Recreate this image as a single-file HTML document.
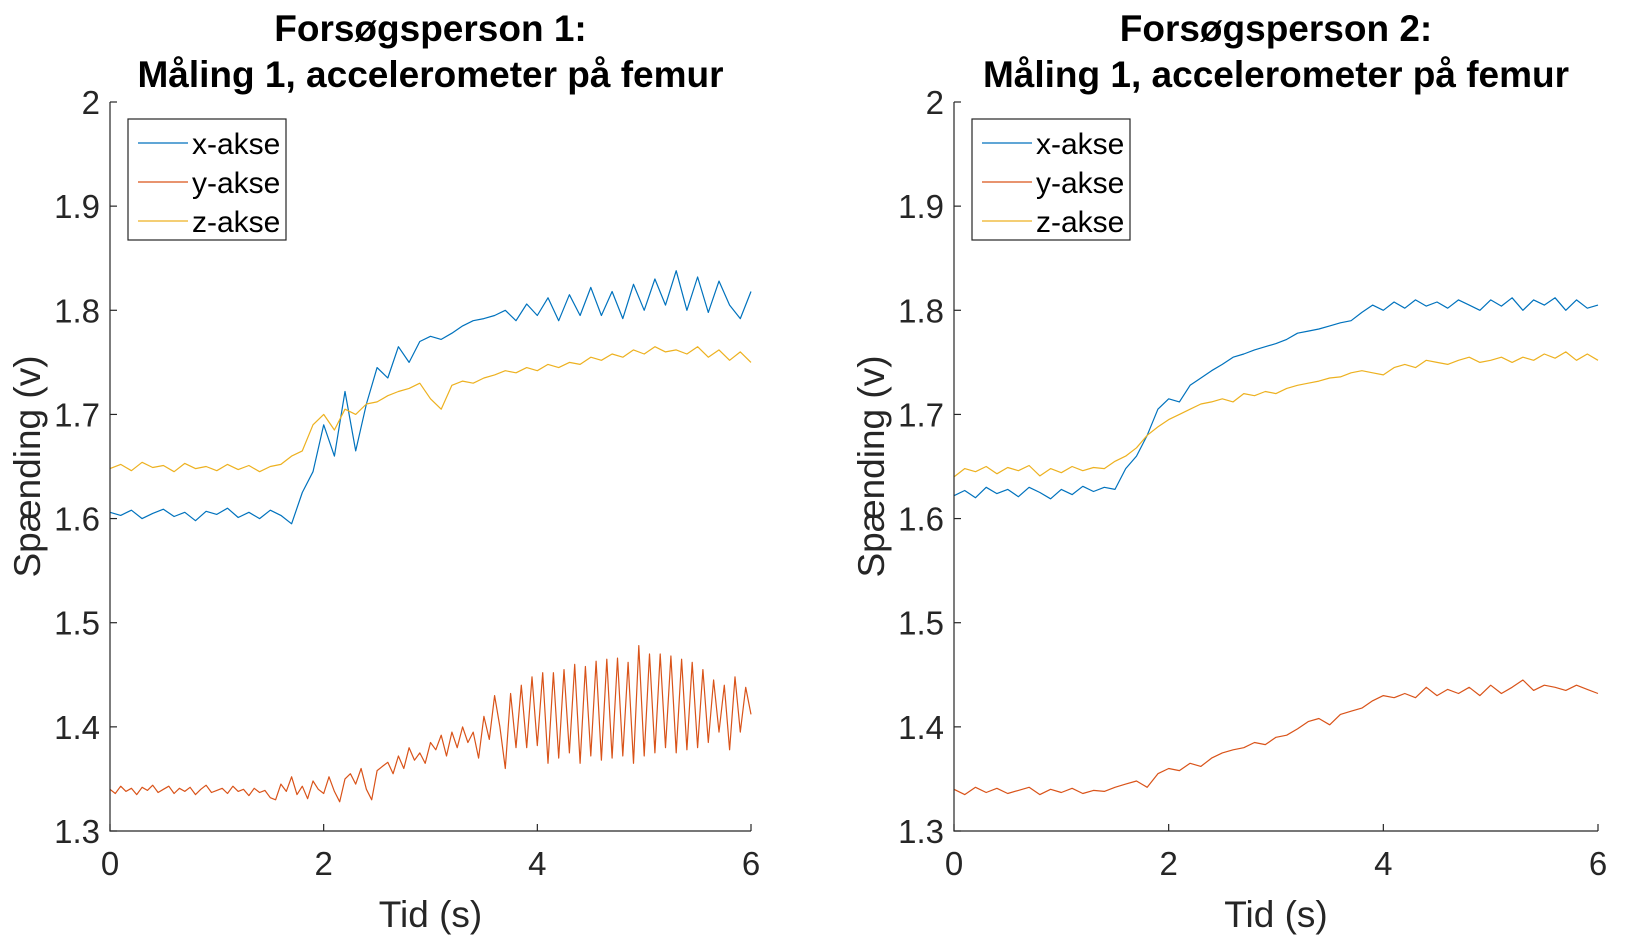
<!DOCTYPE html>
<html><head><meta charset="utf-8">
<style>
html,body{margin:0;padding:0;background:#fff;}
svg{display:block;font-family:"Liberation Sans",Arial,sans-serif;}
</style></head>
<body>
<svg id="fig" width="1625" height="935" viewBox="0 0 1625 935"></svg>
<script>
const xTicks=[0,2,4,6];
const yTicks=[1.3,1.4,1.5,1.6,1.7,1.8,1.9,2];
const seriesNames=["x-akse","y-akse","z-akse"];
const titles1=["Forsøgsperson 1:","Måling 1, accelerometer på femur"];
const titles2=["Forsøgsperson 2:","Måling 1, accelerometer på femur"];
const p1x=[1.606,1.603,1.608,1.600,1.605,1.609,1.602,1.606,1.598,1.607,1.604,1.610,1.601,1.606,1.600,1.608,1.603,1.595,1.625,1.645,1.690,1.660,1.722,1.665,1.710,1.745,1.735,1.765,1.750,1.770,1.775,1.772,1.778,1.785,1.790,1.792,1.795,1.800,1.790,1.806,1.795,1.812,1.790,1.815,1.795,1.822,1.795,1.818,1.792,1.825,1.800,1.830,1.805,1.838,1.800,1.832,1.798,1.828,1.805,1.792,1.818];
const p1y=[1.340,1.336,1.343,1.338,1.341,1.335,1.342,1.339,1.344,1.337,1.340,1.343,1.336,1.341,1.338,1.342,1.335,1.340,1.344,1.337,1.339,1.341,1.336,1.343,1.338,1.340,1.334,1.341,1.337,1.339,1.332,
1.330,1.345,1.338,1.352,1.335,1.343,1.331,1.348,1.340,1.336,
1.352,1.338,1.328,1.350,1.355,1.345,1.360,1.340,1.330,1.358,
1.362,1.366,1.355,1.372,1.360,1.380,1.368,1.375,1.365,1.385,
1.378,1.392,1.372,1.395,1.380,1.400,1.385,1.395,1.370,1.410,
1.388,1.430,1.400,1.360,1.432,1.380,1.440,1.380,1.448,1.382,
1.452,1.365,1.452,1.370,1.455,1.375,1.460,1.365,1.458,1.372,
1.463,1.368,1.465,1.370,1.466,1.372,1.462,1.365,1.478,1.372,
1.470,1.375,1.470,1.380,1.468,1.375,1.465,1.378,1.462,1.380,
1.455,1.385,1.445,1.395,1.440,1.378,1.448,1.395,1.438,1.412];
const p1z=[1.648,1.652,1.646,1.654,1.649,1.651,1.645,1.653,1.648,1.650,1.646,1.652,1.647,1.651,1.645,1.650,1.652,1.660,1.665,1.690,1.700,1.685,1.705,1.700,1.710,1.712,1.718,1.722,1.725,1.730,1.715,1.705,1.728,1.732,1.730,1.735,1.738,1.742,1.740,1.745,1.742,1.748,1.745,1.750,1.748,1.755,1.752,1.758,1.755,1.762,1.758,1.765,1.760,1.762,1.758,1.765,1.755,1.762,1.752,1.760,1.750];
const p2x=[1.622,1.627,1.620,1.630,1.624,1.628,1.621,1.630,1.625,1.619,1.628,1.623,1.631,1.626,1.630,1.628,1.648,1.660,1.680,1.705,1.715,1.712,1.728,1.735,1.742,1.748,1.755,1.758,1.762,1.765,1.768,1.772,1.778,1.780,1.782,1.785,1.788,1.790,1.798,1.805,1.800,1.808,1.802,1.810,1.804,1.808,1.802,1.810,1.805,1.800,1.810,1.804,1.812,1.800,1.810,1.805,1.812,1.800,1.810,1.802,1.805];
const p2y=[1.340,1.335,1.342,1.337,1.341,1.336,1.339,1.342,1.335,1.340,1.337,1.341,1.336,1.339,1.338,1.342,1.345,1.348,1.342,1.355,1.360,1.358,1.365,1.362,1.370,1.375,1.378,1.380,1.385,1.383,1.390,1.392,1.398,1.405,1.408,1.402,1.412,1.415,1.418,1.425,1.430,1.428,1.432,1.428,1.438,1.430,1.436,1.432,1.438,1.430,1.440,1.432,1.438,1.445,1.435,1.440,1.438,1.435,1.440,1.436,1.432];
const p2z=[1.640,1.648,1.645,1.650,1.643,1.649,1.646,1.651,1.641,1.648,1.644,1.650,1.646,1.649,1.648,1.655,1.660,1.668,1.680,1.688,1.695,1.700,1.705,1.710,1.712,1.715,1.712,1.720,1.718,1.722,1.720,1.725,1.728,1.730,1.732,1.735,1.736,1.740,1.742,1.740,1.738,1.745,1.748,1.745,1.752,1.750,1.748,1.752,1.755,1.750,1.752,1.755,1.750,1.755,1.752,1.758,1.754,1.760,1.752,1.758,1.752];

const colors=["#0072BD","#D95319","#EDB120"];
const NS="http://www.w3.org/2000/svg";
const svg=document.getElementById('fig');
function mk(tag,attrs,parent){const e=document.createElementNS(NS,tag);for(const k in attrs)e.setAttribute(k,attrs[k]);(parent||svg).appendChild(e);return e;}

function panel(id,L,R,titles,data,ylabX){
  const T=102,B=831,xmin=0,xmax=6,ymin=1.3,ymax=2;
  const sx=v=>L+(v-xmin)/(xmax-xmin)*(R-L);
  const sy=v=>B-(v-ymin)/(ymax-ymin)*(B-T);
  const g=mk('g',{});
  
  
  titles.forEach((t,i)=>{
    const tx=mk('text',{x:(L+R)/2,y:41+i*46,'text-anchor':'middle','font-size':37,'font-weight':'bold',fill:'#000'},g);
    tx.textContent=t;
    
    
  });
  data.forEach((arr,si)=>{
    const dt=(xmax-xmin)/(arr.length-1);
    const d=arr.map((v,i)=>(i?'L':'M')+sx(xmin+i*dt).toFixed(1)+' '+sy(v).toFixed(1)).join('');
    const p=mk('path',{d:d,fill:'none',stroke:colors[si],'stroke-width':1.2,'stroke-linejoin':'round'},g);
    
    
  });
  const ax=mk('path',{d:`M${L} ${T}L${L} ${B}L${R} ${B}`,fill:'none',stroke:'#262626','stroke-width':1.2},g);
  
  
  xTicks.forEach(v=>{
    mk('line',{x1:sx(v),x2:sx(v),y1:B,y2:B-7,stroke:'#262626','stroke-width':1.2},g);
    const t=mk('text',{x:sx(v),y:B+44,'text-anchor':'middle','font-size':33,fill:'#262626'},g);
    t.textContent=v;
    
    
  });
  yTicks.forEach(v=>{
    mk('line',{x1:L,x2:L+7,y1:sy(v),y2:sy(v),stroke:'#262626','stroke-width':1.2},g);
    const t=mk('text',{x:L-10,y:sy(v)+12,'text-anchor':'end','font-size':33,fill:'#262626'},g);
    t.textContent=v.toFixed(v===2?0:1);
    
    
  });
  const xl=mk('text',{x:(L+R)/2,y:927,'text-anchor':'middle','font-size':37,fill:'#262626'},g);
  xl.textContent='Tid (s)';
  
  
  const yl=mk('text',{x:0,y:0,'text-anchor':'middle','font-size':37,fill:'#262626',transform:`translate(${ylabX},${(T+B)/2}) rotate(-90)`},g);
  yl.textContent='Spænding (v)';
  
  
  const lg=mk('g',{},g);
  
  
  const lx=L+18;
  mk('rect',{x:lx,y:119,width:158,height:121,fill:'#fff',stroke:'#262626','stroke-width':1.2},lg);
  seriesNames.forEach((n,i)=>{
    const yy=143+i*39;
    const e=mk('g',{},lg);
    
    
    mk('line',{x1:lx+10,x2:lx+60,y1:yy,y2:yy,stroke:colors[i],'stroke-width':1.2},e);
    const t=mk('text',{x:lx+64,y:yy+11,'font-size':30,fill:'#000'},e);
    t.textContent=n;
  });
}
panel('panel-person-1',110,751,titles1,[p1x,p1y,p1z],40);
panel('panel-person-2',954,1598,titles2,[p2x,p2y,p2z],884);
</script>
</body></html>
